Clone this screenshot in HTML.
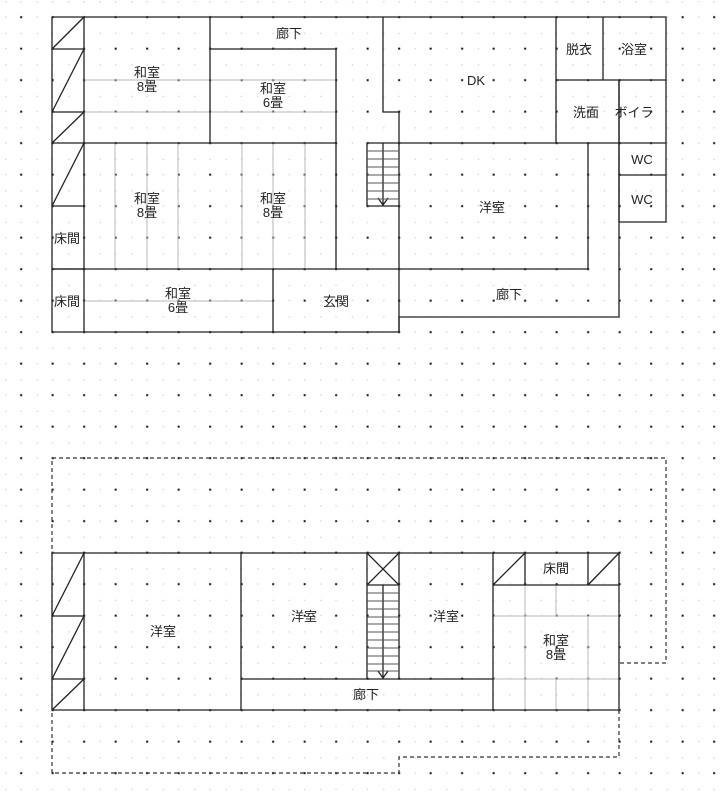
<!DOCTYPE html>
<html><head><meta charset="utf-8"><style>
html,body{margin:0;padding:0;background:#fff;}
svg{display:block;}
text{font-family:"Liberation Sans","Noto Sans CJK JP",sans-serif;font-size:13px;fill:#222;text-anchor:middle;}
</style></head><body>
<svg width="723" height="800" viewBox="0 0 723 800" xmlns="http://www.w3.org/2000/svg">
<defs>
<pattern id="g" patternUnits="userSpaceOnUse" x="5.25" y="1.25" width="31.5" height="31.5">
<rect x="0" y="0" width="1.2" height="1.2" fill="#c8c8c8"/>
<rect x="15.2" y="0" width="1.2" height="1.2" fill="#c8c8c8"/>
<rect x="0" y="15.2" width="1.2" height="1.2" fill="#c8c8c8"/>
<rect x="14.9" y="14.9" width="2" height="2" fill="#111"/>
</pattern>
</defs>
<rect width="723" height="800" fill="#fff"/>
<rect width="723" height="800" fill="url(#g)"/>

<!-- thin grey tatami lines floor 1 -->
<g stroke="#b8b8b8" stroke-width="1" fill="none">
<path d="M84 80H336M84 112H336M115 143V269M147 143V269M178 143V269M242 143V269M273 143V269M305 143V269M84 301H273"/>
<!-- floor 2 washitsu -->
<path d="M493 616H619M493 679H619M525 585V710M588 616V710M556 585V616M556 679V710"/>
</g>

<!-- floor 1 walls -->
<g stroke="#222" stroke-width="1.3" fill="none">
<path d="M52 17H666V143M52 17V332H399V317H619V80M84 17V332"/>
<path d="M52 49H84M52 112H84M52 143H84M52 206H84M52 269H84"/>
<path d="M52 49L84 17M52 112L84 49M52 143L84 112M52 206L84 143"/>
<path d="M210 17V143M210 49H336V269M84 143H336M52 269H588V143M273 269V332"/>
<path d="M383 17V112H399V332"/>
<path d="M556 17V143M603 17V80M556 80H666M399 143H666M619 80V222H666V143M619 175H666"/>
<!-- stairs floor1 -->
<path d="M367 143H399M367 143V206H399M383 143V206M378 198L383 205L388 198"/>
</g>
<g stroke="#555" stroke-width="1">
<path d="M367 151H399M367 159H399M367 167H399M367 175H399M367 183H399M367 191H399M367 199H399"/>
</g>

<!-- floor 2 walls -->
<g stroke="#222" stroke-width="1.3" fill="none">
<path d="M52 553H619V710H52ZM84 553V710M52 616H84M52 679H84"/>
<path d="M52 616L84 553M52 679L84 616M52 710L84 679"/>
<path d="M241 553V710M241 679H493M367 553V679M399 553V679M493 553V710"/>
<path d="M367 585H399M367 553L399 585M399 553L367 585M383 585V679M378 671L383 678L388 671"/>
<path d="M493 585H619M525 553V585M588 553V585M493 585L525 553M588 585L619 553"/>
</g>
<g stroke="#555" stroke-width="1">
<path d="M367 593H399M367 601H399M367 609H399M367 617H399M367 624H399M367 632H399M367 640H399M367 648H399M367 656H399M367 664H399M367 671H399"/>
</g>
<!-- dashed outline -->
<path d="M52 458H666V663H619M619 710V757H399V773H52V458" fill="none" stroke="#333" stroke-width="1.2" stroke-dasharray="4,3"/>

<!-- labels floor 1 -->
<text x="289" y="38">廊下</text>
<text x="147" y="77">和室</text><text x="147" y="91">8畳</text>
<text x="273" y="93">和室</text><text x="273" y="107">6畳</text>
<text x="147" y="203">和室</text><text x="147" y="217">8畳</text>
<text x="273" y="203">和室</text><text x="273" y="217">8畳</text>
<text x="67" y="243">床間</text>
<text x="67" y="306">床間</text>
<text x="178" y="298">和室</text><text x="178" y="312">6畳</text>
<text x="336" y="306">玄関</text>
<text x="476" y="85">DK</text>
<text x="579" y="54">脱衣</text>
<text x="634" y="54">浴室</text>
<text x="586" y="117">洗面</text>
<text x="634" y="117">ボイラ</text>
<text x="642" y="164">WC</text>
<text x="642" y="204">WC</text>
<text x="492" y="212">洋室</text>
<text x="509" y="299">廊下</text>
<!-- labels floor 2 -->
<text x="163" y="636">洋室</text>
<text x="304" y="621">洋室</text>
<text x="366" y="699">廊下</text>
<text x="446" y="621">洋室</text>
<text x="556" y="573">床間</text>
<text x="556" y="645">和室</text><text x="556" y="659">8畳</text>
</svg>
</body></html>
